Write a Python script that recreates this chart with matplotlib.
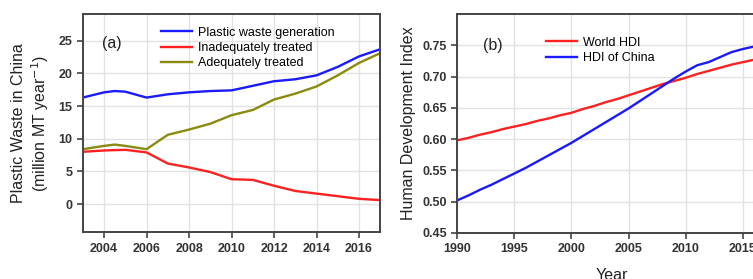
import matplotlib
matplotlib.use("Agg")
from matplotlib import pyplot as plt

plt.rcParams['font.family'] = ['Liberation Sans', 'DejaVu Sans']

# panel (a): plastic waste in China, million MT per year
years_a = [2003, 2004, 2004.5, 2005, 2006, 2007, 2008, 2009, 2010,
           2011, 2012, 2013, 2014, 2015, 2016, 2017]
generation = [16.3, 17.1, 17.3, 17.2, 16.3, 16.8, 17.1, 17.3, 17.4,
              18.1, 18.8, 19.1, 19.7, 21.0, 22.6, 23.7]
inadequate = [8.0, 8.2, 8.25, 8.3, 7.9, 6.2, 5.6, 4.9, 3.8,
              3.7, 2.8, 2.0, 1.6, 1.2, 0.8, 0.6]
adequate = [8.4, 8.9, 9.1, 8.9, 8.4, 10.6, 11.4, 12.3, 13.6,
            14.4, 16.0, 16.9, 18.0, 19.7, 21.6, 23.1]

# panel (b): human development index
years_b = list(range(1990, 2018))
world_hdi = [0.598, 0.602, 0.607, 0.611, 0.616, 0.620, 0.624, 0.629, 0.633, 0.638,
             0.642, 0.648, 0.653, 0.659, 0.664, 0.670, 0.676, 0.682, 0.688, 0.693,
             0.698, 0.704, 0.709, 0.714, 0.719, 0.723, 0.727, 0.731]
china_hdi = [0.502, 0.510, 0.519, 0.527, 0.536, 0.545, 0.554, 0.564, 0.574, 0.584,
             0.594, 0.605, 0.616, 0.627, 0.638, 0.649, 0.661, 0.673, 0.685, 0.697,
             0.708, 0.718, 0.723, 0.731, 0.739, 0.744, 0.748, 0.752]

blue = '#1a1aff'
red = '#ff2020'
olive = '#8a8a10'
spine_col = '#444444'
grid_col = '#e2e2e2'


def style_axes(ax):
    for s in ax.spines.values():
        s.set_color(spine_col)
        s.set_linewidth(1.4)
    ax.grid(True, color=grid_col, linewidth=1.0)
    ax.set_axisbelow(True)
    ax.tick_params(direction='out', length=4, width=1.2, color=spine_col,
                   labelsize=9, labelcolor='#333333')
    for lab in ax.get_xticklabels() + ax.get_yticklabels():
        lab.set_fontweight('bold')


fig = plt.figure(figsize=(7.53, 2.79), dpi=100)

ax1 = fig.add_axes([0.110, 0.168, 0.395, 0.782])
ax1.plot(years_a, generation, color=blue, lw=1.7, label='Plastic waste generation')
ax1.plot(years_a, inadequate, color=red, lw=1.7, label='Inadequately treated')
ax1.plot(years_a, adequate, color=olive, lw=1.7, label='Adequately treated')
ax1.set_xlim(2003, 2017)
ax1.set_ylim(-4.3, 29.1)
ax1.set_xticks(range(2004, 2017, 2))
ax1.set_yticks(range(0, 30, 5))
ax1.set_ylabel('Plastic Waste in China\n(million MT year$^{-1}$)', fontsize=11.5,
               color='#222222', labelpad=5)
ax1.text(0.065, 0.845, '(a)', transform=ax1.transAxes, fontsize=11.5, color='#222222')
ax1.legend(loc='upper left', bbox_to_anchor=(0.262, 0.942), frameon=False,
           fontsize=9, handlelength=2.5, handletextpad=0.5, labelspacing=0.27,
           borderpad=0, borderaxespad=0)
style_axes(ax1)

ax2 = fig.add_axes([0.607, 0.165, 0.41, 0.785])
ax2.plot(years_b, world_hdi, color=red, lw=1.7, label='World HDI')
ax2.plot(years_b, china_hdi, color=blue, lw=1.7, label='HDI of China')
ax2.set_xlim(1990, 2017)
ax2.set_ylim(0.45, 0.80)
ax2.set_xticks(range(1990, 2016, 5))
ax2.set_yticks([0.45, 0.50, 0.55, 0.60, 0.65, 0.70, 0.75])
ax2.set_yticklabels(['%.2f' % v for v in [0.45, 0.50, 0.55, 0.60, 0.65, 0.70, 0.75]])
ax2.set_ylabel('Human Development Index', fontsize=11.5, color='#222222', labelpad=4)
ax2.set_xlabel('Year', fontsize=11.5, color='#222222', labelpad=9)
ax2.text(0.085, 0.835, '(b)', transform=ax2.transAxes, fontsize=11.5, color='#222222')
ax2.legend(loc='upper left', bbox_to_anchor=(0.288, 0.897), frameon=False,
           fontsize=9, handlelength=2.5, handletextpad=0.5, labelspacing=0.27,
           borderpad=0, borderaxespad=0)
style_axes(ax2)

fig.savefig('out.png', dpi=100)
